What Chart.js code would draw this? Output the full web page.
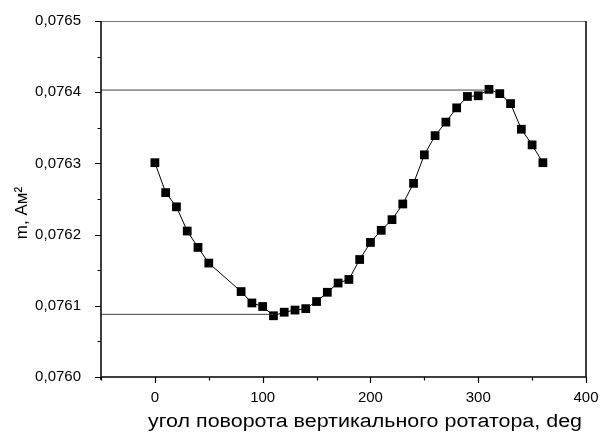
<!DOCTYPE html>
<html>
<head>
<meta charset="utf-8">
<script src="https://cdn.jsdelivr.net/npm/chart.js@4/dist/chart.umd.min.js"></script>
<style>
  html, body { margin: 0; padding: 0; background: #fff; }
  #wrap { width: 600px; height: 434px; }
</style>
</head>
<body>
<div id="wrap"><canvas id="chart"></canvas></div>
<script>
// angle of the vertical rotator, deg
const angles = [0, 10, 20, 30, 40, 50, 80, 90, 100, 110, 120, 130, 140, 150, 160, 170, 180,
    190, 200, 210, 220, 230, 240, 250, 260, 270, 280, 290, 300, 310, 320, 330, 340, 350, 360];
// magnetic moment m, A*m^2
const moments = [0.076301, 0.076259, 0.076239, 0.076205, 0.076182, 0.076160, 0.076120, 0.076104,
    0.076099, 0.076086, 0.076091, 0.076094, 0.076096, 0.076106, 0.076119, 0.076132, 0.076137,
    0.076165, 0.076189, 0.076206, 0.076221, 0.076243, 0.076272, 0.076312, 0.076339, 0.076358,
    0.076378, 0.076394, 0.076395, 0.076404, 0.076398, 0.076384, 0.076348, 0.076326, 0.076301];

// horizontal guide lines to the maximum and minimum
const maxLineX = [-50, 310];
const maxLineY = [0.076403, 0.076403];
const minLineX = [-50, 110];
const minLineY = [0.076088, 0.076088];

const xTicks = [0, 100, 200, 300, 400];
const yTicks = [0.0760, 0.0761, 0.0762, 0.0763, 0.0764, 0.0765];

const xTitle = "угол поворота вертикального ротатора, deg";
const yTitle = "m, Ам²";

const FONT = "'Liberation Sans', Arial, sans-serif";

function toPoints(xs, ys) {
    return xs.map((x, i) => ({ x: x, y: ys[i] }));
}

// draws the frame, tick marks and axis titles
const framePlugin = {
    id: "frame",
    afterDraw(chart) {
        const ctx = chart.ctx;
        const a = chart.chartArea;
        const xs = chart.scales.x;
        const ys = chart.scales.y;
        ctx.save();

        // top border (thin grey) and right border
        ctx.strokeStyle = "#777";
        ctx.lineWidth = 1;
        ctx.beginPath();
        ctx.moveTo(a.left, a.top + 0.5);
        ctx.lineTo(a.right, a.top + 0.5);
        ctx.stroke();

        ctx.strokeStyle = "#000";
        ctx.lineWidth = 1.5;
        ctx.beginPath();
        ctx.moveTo(a.right, a.top);
        ctx.lineTo(a.right, a.bottom);
        ctx.stroke();

        // left and bottom axes
        ctx.beginPath();
        ctx.moveTo(a.left, a.top);
        ctx.lineTo(a.left, a.bottom + 3);
        ctx.moveTo(a.left, a.bottom);
        ctx.lineTo(a.right, a.bottom);
        ctx.stroke();

        ctx.lineWidth = 1.2;
        ctx.beginPath();
        for (let v = -50; v <= 400; v += 50) {
            const px = Math.round(xs.getPixelForValue(v)) + 0.5;
            const len = (v % 100 === 0) ? 6 : 3.5;
            ctx.moveTo(px, a.bottom);
            ctx.lineTo(px, a.bottom + len);
        }
        for (let i = 0; i <= 10; i++) {
            const v = 0.0760 + i * 0.00005;
            const py = Math.round(ys.getPixelForValue(v)) + 0.5;
            const len = (i % 2 === 0) ? 6 : 3.5;
            ctx.moveTo(a.left, py);
            ctx.lineTo(a.left - len, py);
        }
        ctx.stroke();

        // axis titles
        ctx.fillStyle = "#000";
        ctx.textAlign = "center";
        ctx.textBaseline = "middle";

        // x title is wide in the original, stretch it to the same width
        ctx.save();
        ctx.font = "18px " + FONT;
        const w = ctx.measureText(xTitle).width;
        ctx.translate(365, 422);
        ctx.scale(434 / w, 1);
        ctx.fillText(xTitle, 0, 0);
        ctx.restore();

        ctx.font = "17px " + FONT;
        ctx.translate(22, 213);
        ctx.rotate(-Math.PI / 2);
        ctx.fillText(yTitle, 0, 0);
        ctx.restore();
    }
};

new Chart(document.getElementById("chart"), {
    type: "scatter",
    data: {
        datasets: [
            {
                data: toPoints(maxLineX, maxLineY),
                showLine: true,
                borderColor: "#444",
                borderWidth: 1,
                pointRadius: 0
            },
            {
                data: toPoints(minLineX, minLineY),
                showLine: true,
                borderColor: "#444",
                borderWidth: 1,
                pointRadius: 0
            },
            {
                data: toPoints(angles, moments),
                showLine: true,
                borderColor: "#000",
                borderWidth: 1,
                backgroundColor: "#000",
                pointStyle: "rect",
                pointRadius: 6.2,
                pointBorderWidth: 0
            }
        ]
    },
    options: {
        responsive: true,
        maintainAspectRatio: false,
        animation: false,
        layout: { padding: { top: 21, right: 14, left: 0, bottom: 0 } },
        plugins: {
            legend: { display: false },
            tooltip: { enabled: false }
        },
        scales: {
            x: {
                type: "linear",
                min: -50,
                max: 400,
                grid: { display: false },
                border: { display: false },
                afterBuildTicks: (scale) => { scale.ticks = xTicks.map(v => ({ value: v })); },
                afterFit: (scale) => {
                    scale.height = 57;
                    scale.paddingLeft = 0;
                    scale.paddingRight = 0;
                },
                ticks: {
                    color: "#000",
                    padding: 4,
                    maxRotation: 0,
                    font: { family: FONT, size: 15 }
                }
            },
            y: {
                type: "linear",
                min: 0.0760,
                max: 0.0765,
                grid: { display: false },
                border: { display: false },
                afterBuildTicks: (scale) => { scale.ticks = yTicks.map(v => ({ value: v })); },
                afterFit: (scale) => {
                    scale.width = 101;
                    scale.paddingTop = 0;
                    scale.paddingBottom = 0;
                },
                ticks: {
                    color: "#000",
                    padding: 12,
                    font: { family: FONT, size: 15 },
                    callback: (v) => Number(v).toFixed(4).replace(".", ",")
                }
            }
        }
    },
    plugins: [framePlugin]
});
</script>
</body>
</html>
